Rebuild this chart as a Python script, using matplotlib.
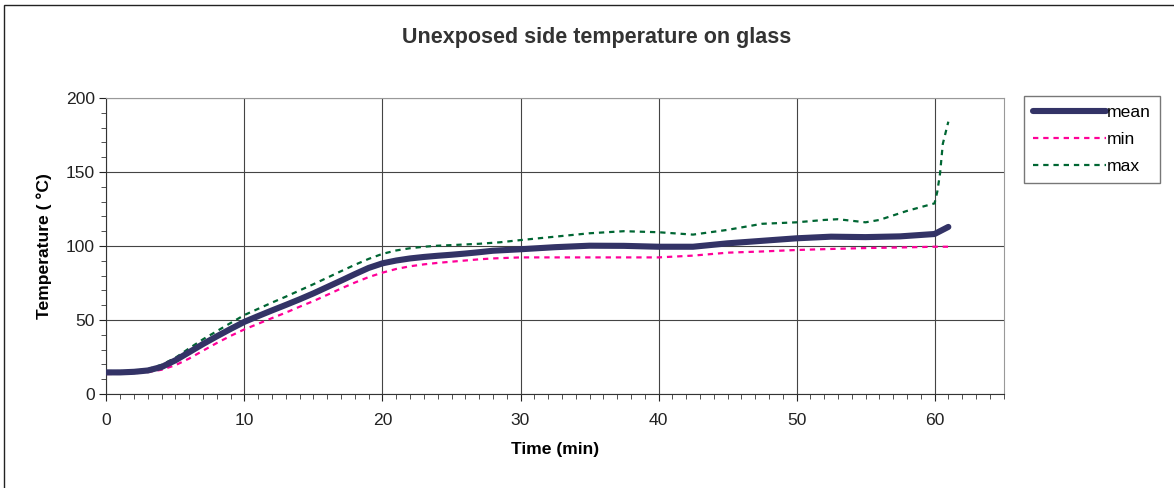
import matplotlib.pyplot as plt
from matplotlib.patches import Rectangle
from matplotlib.ticker import MultipleLocator

plt.rcParams["font.family"] = ["Liberation Sans", "DejaVu Sans"]

# data (time in minutes, temperature in degC)
time = [0, 1, 2, 3, 4, 5, 6, 7, 8, 9, 10, 11, 12, 13, 14, 15, 16, 17, 18,
        19, 20, 21, 22, 23, 24, 25, 26, 27, 28, 30, 32.5, 35, 37.5, 40,
        42.5, 45, 47.5, 50, 52.5, 55, 57.5, 60, 61]
mean_t = [14.6, 14.6, 15.0, 15.9, 18.3, 22.8, 28.3, 33.8, 39, 44, 48.8, 52.7,
          56.5, 60.2, 64, 68, 72.3, 76.6, 81, 85.2, 88.3, 90.2, 91.6, 92.6,
          93.4, 94.1, 94.9, 95.8, 96.8, 97.8, 99.2, 100.2, 100.1, 99.5, 99.5,
          101.8, 103.5, 105.2, 106.3, 106, 106.5, 108.1, 112.9]
min_t = [13.5, 13.6, 14.0, 14.8, 16.4, 19.5, 24, 29.3, 34.5, 39.3, 43.7, 47.5,
         51.3, 55, 59, 62.8, 67, 71.3, 75.3, 79, 82, 84.5, 86.3, 87.6, 88.6,
         89.4, 90.2, 91, 91.6, 92.3, 92.3, 92.3, 92.3, 92.3, 93.5, 95.5, 96.3,
         97.3, 98.0, 98.6, 99.0, 99.5, 99.5]
max_time = [0, 1, 2, 3, 4, 5, 6, 7, 8, 9, 10, 11, 12, 13, 14, 15, 16, 17, 18,
            19, 20, 21, 22, 23, 24, 25, 27, 28.5, 30, 32.5, 35, 37.5, 40,
            42.5, 45, 47.5, 50, 52, 53, 55, 56, 58, 60, 60.2, 60.4, 60.6, 61]
max_t = [15.5, 15.5, 15.8, 16.8, 19.8, 24.5, 30.9, 37, 42.5, 48, 53.4, 57.6,
         61.8, 65.8, 70, 74.2, 78.6, 83, 87.3, 91.3, 94.7, 97, 98.5, 99.5,
         100.2, 100.6, 101.5, 102.5, 104, 106.3, 108.6, 110, 109.3, 107.7,
         110.9, 115, 116, 117.6, 118.1, 116, 117.6, 123.7, 128.8, 136.7, 149,
         169, 184]

fig = plt.figure(figsize=(11.74, 4.88), dpi=100)
ax = fig.add_axes([0.0907, 0.1926, 0.7641, 0.6066])

ax.plot(time, mean_t, color="#333366", lw=4.4, label="mean",
        solid_capstyle="round", zorder=3)
ax.plot(time, min_t, color="#FF0099", lw=1.6, ls=(0, (2.4, 2.2)),
        label="min", zorder=2)
ax.plot(max_time, max_t, color="#006633", lw=1.6, ls=(0, (2.4, 2.2)),
        label="max", zorder=2)

ax.set_xlim(0, 65)
ax.set_ylim(0, 200)
ax.xaxis.set_major_locator(MultipleLocator(10))
ax.xaxis.set_minor_locator(MultipleLocator(1))
ax.yaxis.set_major_locator(MultipleLocator(50))
ax.yaxis.set_minor_locator(MultipleLocator(10))
ax.tick_params(which="major", length=5, width=0.8, labelsize=12.6, colors="#222222")
ax.tick_params(which="minor", length=3.5, width=0.6, colors="#333333")
ax.tick_params(axis="x", pad=9)
ax.grid(which="major", color="#444444", lw=0.8)
for side in ["top", "right"]:
    ax.spines[side].set_color("#999999")
for side in ["left", "bottom"]:
    ax.spines[side].set_color("#333333")

ax.set_xlabel("Time (min)", fontsize=12.6, fontweight="bold", labelpad=10)
ax.set_ylabel("Temperature ( \u00b0C)", fontsize=12.6, fontweight="bold", labelpad=10)
fig.text(0.508, 0.924, "Unexposed side temperature on glass", ha="center",
         va="center", fontsize=15.5, fontweight="bold", color="#333333")

leg = ax.legend(loc="upper left", bbox_to_anchor=(1024 / 1174, 1 - 96 / 488),
                bbox_transform=fig.transFigure, fontsize=12.6, frameon=True,
                fancybox=False, edgecolor="#555555", handlelength=4.2,
                handletextpad=0.05, labelspacing=0.68, borderpad=0.5,
                borderaxespad=0)
leg.get_frame().set_linewidth(1.0)

fig.patches.append(Rectangle((4 / 1174, -0.05), 1.1, 1 - 5 / 488 + 0.05,
                             transform=fig.transFigure, fill=False,
                             edgecolor="#222222", lw=1.0))

plt.savefig("out.png", dpi=100)
